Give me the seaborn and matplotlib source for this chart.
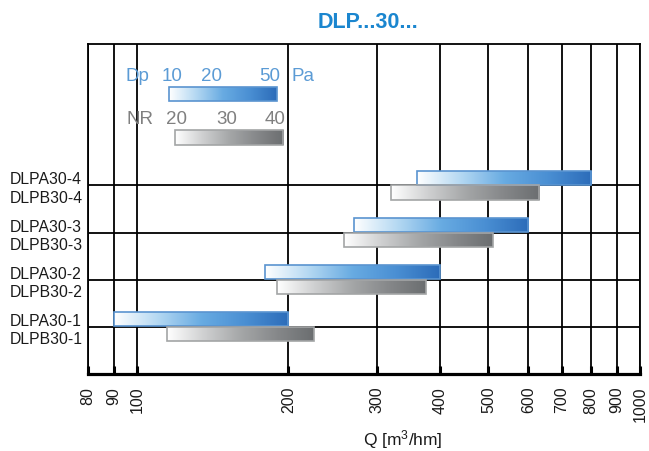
import numpy as np
import matplotlib
matplotlib.use("Agg")
import matplotlib.pyplot as plt
import seaborn as sns
from matplotlib.colors import LinearSegmentedColormap
from matplotlib.patches import Rectangle

# flow ranges Q [m3/hm] per size, A = blue (Dp), B = grey (NR)
sizes = [1, 2, 3, 4]
a_labels = ["DLPA30-1", "DLPA30-2", "DLPA30-3", "DLPA30-4"]
b_labels = ["DLPB30-1", "DLPB30-2", "DLPB30-3", "DLPB30-4"]
a_lo = [90, 180, 270, 360]
a_hi = [200, 400, 600, 800]
b_lo = [115, 190, 258, 320]
b_hi = [225, 375, 510, 630]
xticks = [80, 90, 100, 200, 300, 400, 500, 600, 700, 800, 900, 1000]
dp_ticks = ["10", "20", "50"]
nr_ticks = ["20", "30", "40"]

sns.set_theme(style="white")
plt.rcParams["font.family"] = ["Liberation Sans", "DejaVu Sans"]
plt.rcParams["mathtext.default"] = "regular"

blue_cm = LinearSegmentedColormap.from_list("blu", ["#ffffff", "#b4d8f2", "#68abe2", "#4a8fd3", "#2c6cb9"])
gray_cm = LinearSegmentedColormap.from_list("gry", ["#ffffff", "#cfd0d1", "#a5a7a8", "#86888a", "#6b6e70"])
grad = np.linspace(0, 1, 256).reshape(1, -1)

fig = plt.figure(figsize=(6.49, 4.52), dpi=100)
ax = fig.add_axes([0.1356, 0.1704, 0.8505, 0.7300])
ax.set_xscale("log")
ax.set_xlim(80, 1000)
ax.set_ylim(0, 7)


def gradient(patch, cmap, in_axes=False):
    if in_axes:
        x0, y0 = patch.get_x(), patch.get_y()
        x1, y1 = x0 + patch.get_width(), y0 + patch.get_height()
    else:
        to_axes = ax.transData + ax.transAxes.inverted()
        (x0, y0), (x1, y1) = to_axes.transform(
            [(patch.get_x(), patch.get_y()),
             (patch.get_x() + patch.get_width(), patch.get_y() + patch.get_height())])
    im = ax.imshow(grad, cmap=cmap, aspect="auto", extent=(x0, x1, y0, y1),
                   transform=ax.transAxes, zorder=3, interpolation="bilinear")
    im.set_clip_path(patch)


# grid
ax.set_xticks(xticks)
ax.set_xticklabels([str(v) for v in xticks], rotation=90, fontsize=11.5)
ax.minorticks_off()
ax.grid(axis="x", color="black", lw=1.3)
for s in sizes:
    ax.axhline(s, color="black", lw=1.3, zorder=1)

# bars
for i, s in enumerate(sizes):
    pa = ax.barh(s + 0.01, a_hi[i] - a_lo[i], left=a_lo[i], height=0.3, align="edge",
                 facecolor="none", edgecolor="#5a94d0", lw=1.2, zorder=4)[0]
    gradient(pa, blue_cm)
    pb = ax.barh(s - 0.3, b_hi[i] - b_lo[i], left=b_lo[i], height=0.3, align="edge",
                 facecolor="none", edgecolor="#a3a5a6", lw=1.2, zorder=4)[0]
    gradient(pb, gray_cm)

# row labels
ypos = []
ylab = []
for i, s in enumerate(sizes):
    ypos += [s + 0.17, s - 0.22]
    ylab += [a_labels[i], b_labels[i]]
ax.set_yticks(ypos)
ax.set_yticklabels(ylab, fontsize=11.3)
for t in ax.get_yticklabels():
    t.set_ha("left")
ax.tick_params(axis="y", length=0, pad=56, colors="#1a1a1a")
ax.tick_params(axis="x", direction="in", length=6, width=2.2, color="black",
               pad=8.5, labelcolor="#1a1a1a", bottom=True)

for side in ["left", "top", "right"]:
    ax.spines[side].set_color("black")
    ax.spines[side].set_linewidth(1.3)
ax.spines["bottom"].set_color("black")
ax.spines["bottom"].set_linewidth(2.3)

# legend
lb = Rectangle((0.1467, 0.828), 0.1951, 0.041, transform=ax.transAxes,
               facecolor="none", edgecolor="#5a94d0", lw=1.2, zorder=4)
ax.add_patch(lb)
gradient(lb, blue_cm, in_axes=True)
lg = Rectangle((0.1576, 0.695), 0.1962, 0.044, transform=ax.transAxes,
               facecolor="none", edgecolor="#a3a5a6", lw=1.2, zorder=4)
ax.add_patch(lg)
gradient(lg, gray_cm, in_axes=True)

blue_txt = "#5b9bd5"
gray_txt = "#808080"
fs = 13.5
ax.text(0.068, 0.906, "Dp", transform=ax.transAxes, color=blue_txt, fontsize=fs,
        ha="left", va="center", zorder=5)
for x, t in zip([0.153, 0.224, 0.330], dp_ticks):
    ax.text(x, 0.906, t, transform=ax.transAxes, color=blue_txt, fontsize=fs,
            ha="center", va="center", zorder=5)
ax.text(0.368, 0.906, "Pa", transform=ax.transAxes, color=blue_txt, fontsize=fs,
        ha="left", va="center", zorder=5)
ax.text(0.070, 0.773, "NR", transform=ax.transAxes, color=gray_txt, fontsize=fs,
        ha="left", va="center", zorder=5)
for x, t in zip([0.161, 0.251, 0.339], nr_ticks):
    ax.text(x, 0.773, t, transform=ax.transAxes, color=gray_txt, fontsize=fs,
            ha="center", va="center", zorder=5)

fig.text(403 / 649, 1 - 440 / 452, "Q [m$^3$/hm]", ha="center", va="center",
         fontsize=12.5, color="#1a1a1a")

fig.text(0.567, 0.951, "DLP...30...", ha="center", va="center", fontsize=15.5,
         fontweight="bold", color="#1b86cf")

fig.savefig("out.png", dpi=100)
